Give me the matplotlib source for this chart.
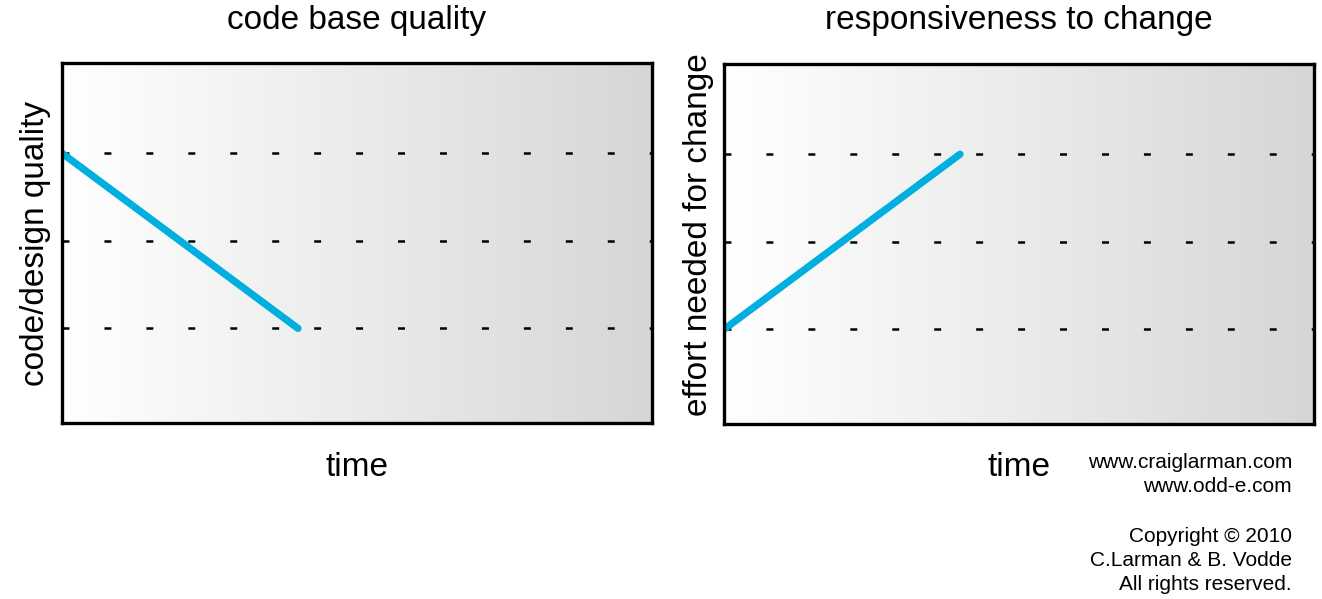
import numpy as np
import matplotlib.pyplot as plt

plt.rcParams['font.family'] = ['Liberation Sans', 'DejaVu Sans']
plt.rcParams['lines.scale_dashes'] = False

# data
titles = ['code base quality', 'responsiveness to change']
ylabels = ['code/design quality', 'effort needed for change']
xlabel = 'time'
grid_levels = [1, 2, 3]
quality_x = [0, 4]
quality_y = [3, 1]
effort_x = [0, 4]
effort_y = [1, 3]
notes = ['www.craiglarman.com', 'www.odd-e.com', '',
         'Copyright \u00a9 2010', 'C.Larman & B. Vodde', 'All rights reserved.']

line_color = '#00aedf'

fig = plt.figure(figsize=(13.22, 5.99), dpi=100)
W, H = 1322, 599
boxes = [(62, 63, 652, 423), (724, 64, 1314, 424)]
series = [(quality_x, quality_y), (effort_x, effort_y)]
ylab_x = [36, 698]
ylab_y = [0.5, 0.527]

# horizontal gradient white -> light grey
grad = np.linspace(0, 1, 256)
c0 = np.array([1.0, 1.0, 1.0])
c1 = np.array([0.835, 0.843, 0.843])
img = (c0[None, :] * (1 - grad[:, None]) + c1[None, :] * grad[:, None])[None, :, :]

for i, (x0, y0, x1, y1) in enumerate(boxes):
    ax = fig.add_axes([x0 / W, 1 - y1 / H, (x1 - x0) / W, (y1 - y0) / H])
    hgt = y1 - y0
    ax.set_xlim(0, 10)
    ax.set_ylim(-0.08, 4.03)
    ax.imshow(img, extent=[0, 10, -0.08, 4.03], aspect='auto', zorder=0)
    for g in grid_levels:
        ln, = ax.plot([0, 10], [g, g], color='black', lw=1.8, zorder=1)
        ln.set_dashes((5.0, 25.2))
    xs, ys = series[i]
    ax.plot(xs, ys, color=line_color, lw=5.2, solid_capstyle='round', zorder=3)
    for s in ax.spines.values():
        s.set_linewidth(2.4)
        s.set_color('black')
        s.set_zorder(4)
    ax.set_xticks([])
    ax.set_yticks([])
    ax.text(0.5, 1 + (y0 - 20) / hgt, titles[i], transform=ax.transAxes,
            ha='center', va='center', fontsize=24)
    ax.text(0.5, -(468 - y1) / hgt, xlabel, transform=ax.transAxes,
            ha='center', va='center', fontsize=24)
    ax.text(-(x0 - ylab_x[i]) / (x1 - x0), ylab_y[i],
            ylabels[i], transform=ax.transAxes, rotation=90,
            ha='center', va='center', fontsize=24)

ytxt = [463, 487, 512, 537, 561, 585]
for t, yy in zip(notes, ytxt):
    if t:
        fig.text(1292 / W, 1 - yy / H, t, ha='right', va='center', fontsize=15)

fig.savefig('out.png', dpi=100)
